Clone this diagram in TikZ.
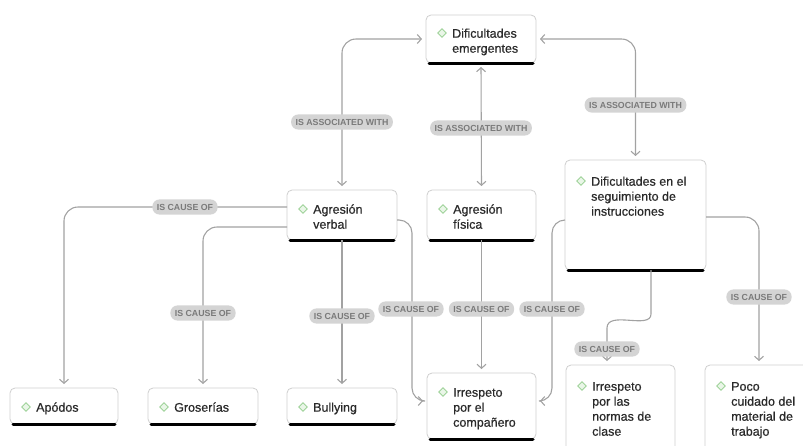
\documentclass[tikz,border=0pt]{standalone}
\usepackage{fontspec}
\setmainfont{Liberation Sans}
\newfontfamily\medfont[FakeBold=0.6]{Liberation Sans}
\usetikzlibrary{arrows.meta}
\definecolor{conncol}{HTML}{A2A2A2}
\definecolor{boxline}{HTML}{CFCFCF}
\definecolor{labfill}{HTML}{D4D4D4}
\definecolor{labtext}{HTML}{7A7A7A}
\definecolor{diamline}{HTML}{9FD39A}
\definecolor{diamfill}{HTML}{EAF6E8}
\definecolor{txtcol}{HTML}{2A2A2A}
\newcommand\mkbox[7]{%
  \node[box, minimum width=#4pt, minimum height=#5pt] (#1) at (#2,#3) {};
  \draw[bar] ([xshift=3pt]#1.south west) -- ([xshift=-3pt]#1.south east);
  \node[diam] (#1-i) at (#2+16,#3+#6) {};
  \node[txt] (#1-t) at (#2+26,#3+#6-6) {\strut #7};
}
\begin{document}
\begin{tikzpicture}[x=1pt,y=-1pt,
  box/.style={draw=boxline, fill=white, line width=0.8pt, rounded corners=5pt,
    anchor=north west, inner sep=0pt, outer sep=0pt},
  bar/.style={line width=3pt, black, line cap=round},
  diam/.style={draw=diamline, fill=diamfill, line width=0.8pt, minimum size=6pt,
    inner sep=0pt, rotate=45},
  txt/.style={anchor=north west, inner sep=0pt, align=left, text=txtcol,
    font=\medfont\fontsize{12.5}{15}\selectfont},
  conn/.style={draw=conncol, line width=1.1pt, rounded corners=14pt},
  arr/.style={-{Straight Barb[length=4pt,width=9pt]}, shorten >=4pt},
  biarr/.style={{Straight Barb[length=4pt,width=9pt]}-{Straight Barb[length=4pt,width=9pt]},
    shorten >=4pt, shorten <=4pt},
  lab/.style={fill=labfill, text=labtext, rounded corners=7pt, inner xsep=4.5pt,
    inner ysep=4.3pt, text height=6.5pt, text depth=0pt,
    font=\bfseries\fontsize{8.8}{10}\selectfont}
]
\useasboundingbox (0,0) rectangle (803,445);
\clip (0,0) rectangle (803,445);

% boxes
\mkbox{de}{426}{15}{110}{48}{18}{Dificultades\\emergentes}
\mkbox{av}{287}{190}{110}{50}{19}{Agresión\\verbal}
\mkbox{af}{427}{190}{109}{50}{19}{Agresión\\física}
\mkbox{des}{565}{160}{141}{110}{21}{Dificultades en el\\seguimiento de\\instrucciones}
\mkbox{apo}{10}{388}{108}{36}{19}{Apódos}
\mkbox{gro}{148}{388}{110}{36}{19}{Groserías}
\mkbox{bul}{287}{388}{110}{36}{19}{Bullying}
\mkbox{irc}{427}{373}{109}{66}{19}{Irrespeto\\por el\\compañero}
\mkbox{irn}{566}{365}{109}{95}{21}{Irrespeto\\por las\\normas de\\clase}
\mkbox{poco}{705}{365}{108}{95}{21}{Poco\\cuidado del\\material de\\trabajo}

% connectors
\draw[conn,biarr] (de.west) -| (av.north);
\draw[conn,biarr] (de.south) -- (af.north);
\draw[conn,biarr] (de.east) -| (des.north);

\draw[conn,arr] (av.west |- 0,207) -| (apo.north);
\draw[conn,arr] (av.west |- 0,227) -| (gro.north);
\draw[conn,arr] (av.south) -- (bul.north);
\draw[conn,arr,rounded corners=13pt] (av.east |- 0,220) -- (412,220) -- (412,401) -- (irc.west |- 0,401);
\draw[conn,arr] (af.south) -- (irc.north);
\draw[conn,arr,rounded corners=13pt] (des.west |- 0,220) -- (552,220) -- (552,401) -- (irc.east |- 0,401);
\draw[conn,arr] (des.south -| 651,0) -- (651,300) .. controls (651,330) and (607,310) .. (607,342) -- (607,0 |- irn.north);
\draw[conn,arr] (des.east |- 0,217) -| (poco.north);

% labels
\node[lab] (l1) at (av.north |- 0,122) {IS ASSOCIATED WITH};
\node[lab] (l2) at (de.south |- 0,128) {IS ASSOCIATED WITH};
\node[lab] (l3) at (des.north |- 0,105) {IS ASSOCIATED WITH};
\node[lab] (l4) at (185,207) {IS CAUSE OF};
\node[lab] (l5) at (gro.north |- 0,313) {IS CAUSE OF};
\node[lab] (l6) at (bul.north |- 0,316) {IS CAUSE OF};
\node[lab] (l7) at (411,309) {IS CAUSE OF};
\node[lab] (l8) at (af.south |- 0,309) {IS CAUSE OF};
\node[lab] (l9) at (552,309) {IS CAUSE OF};
\node[lab] (l10) at (607,349) {IS CAUSE OF};
\node[lab] (l11) at (poco.north |- 0,297) {IS CAUSE OF};
\end{tikzpicture}
\end{document}
